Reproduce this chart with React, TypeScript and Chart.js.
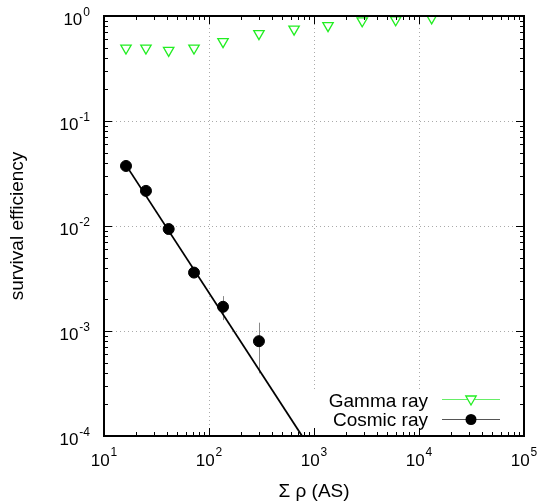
import React, { useEffect, useRef } from 'react';
import { Chart, registerables } from 'chart.js';
Chart.register(...registerables);

// ---- data ----
const gammaX = [16.2, 25.1, 41.3, 72, 136, 299, 646, 1360, 2880, 6000, 13200];
const gammaY = [0.495, 0.495, 0.47, 0.495, 0.57, 0.68, 0.75, 0.81, 0.9, 0.92, 0.96];
const cosmicX = [16.2, 25.1, 41.3, 72, 136, 299];
const cosmicY = [0.0373, 0.0216, 0.00936, 0.0036, 0.0017, 0.0008];
const cosmicErrLow: (number | null)[] = [null, null, null, null, 0.00127, 0.000395];
const cosmicErrHigh: (number | null)[] = [null, null, null, null, 0.00215, 0.0012];
const fitX = [16.2, 770];
const fitY = [0.038, 0.0001];
const xExponents = [1, 2, 3, 4, 5];
const yExponents = [0, -1, -2, -3, -4];
const xTitle = 'Σ ρ (AS)';
const yTitle = 'survival efficiency';
const legendLabels = ['Gamma ray', 'Cosmic ray'];

const FONT = '"Liberation Sans", Arial, Helvetica, sans-serif';
const GREEN = '#22ee22';
const GREEN_LINE = '#66ee66';

const xMin = Math.pow(10, Math.min(...xExponents));
const xMax = Math.pow(10, Math.max(...xExponents));
const yMin = Math.pow(10, Math.min(...yExponents));
const yMax = Math.pow(10, Math.max(...yExponents));

function tickValues(exps: number[]) {
  const lo = Math.min(...exps), hi = Math.max(...exps);
  const out: { v: number; major: boolean }[] = [];
  for (let e = lo; e <= hi; e++) {
    for (let m = 1; m <= 9; m++) {
      const v = m * Math.pow(10, e);
      if (v > Math.pow(10, hi) * 1.0001) break;
      out.push({ v, major: m === 1 });
    }
  }
  return out;
}

const gnuplotPlugin = {
  id: 'gnuplotLook',
  beforeDatasetsDraw(chart: any) {
    const { ctx, chartArea: a, scales } = chart;
    const xs = scales.x, ys = scales.y;
    ctx.save();
    // dotted grid at major ticks
    ctx.strokeStyle = '#aaaaaa';
    ctx.lineWidth = 1;
    ctx.setLineDash([1, 3]);
    xExponents.forEach((e) => {
      const v = Math.pow(10, e);
      if (v <= xMin || v >= xMax) return;
      const px = Math.round(xs.getPixelForValue(v)) + 0.5;
      ctx.beginPath(); ctx.moveTo(px, a.top); ctx.lineTo(px, a.bottom); ctx.stroke();
    });
    yExponents.forEach((e) => {
      const v = Math.pow(10, e);
      if (v <= yMin || v >= yMax) return;
      const py = Math.round(ys.getPixelForValue(v)) + 0.5;
      ctx.beginPath(); ctx.moveTo(a.left, py); ctx.lineTo(a.right, py); ctx.stroke();
    });
    ctx.setLineDash([]);
    // opaque legend box
    ctx.fillStyle = '#ffffff';
    ctx.fillRect(305, 390, a.right - 305, a.bottom - 390);
    // error bars
    ctx.strokeStyle = '#888888';
    ctx.lineWidth = 1;
    cosmicX.forEach((x, i) => {
      const lo = cosmicErrLow[i], hi = cosmicErrHigh[i];
      if (lo == null || hi == null) return;
      const px = Math.round(xs.getPixelForValue(x)) + 0.5;
      ctx.beginPath();
      ctx.moveTo(px, ys.getPixelForValue(hi));
      ctx.lineTo(px, ys.getPixelForValue(lo));
      ctx.stroke();
    });
    ctx.restore();
  },
  afterDraw(chart: any) {
    const { ctx, chartArea: a, scales } = chart;
    const xs = scales.x, ys = scales.y;
    ctx.save();
    // ticks (inward, mirrored)
    ctx.strokeStyle = '#000';
    ctx.lineWidth = 1;
    tickValues(xExponents).forEach(({ v, major }) => {
      const len = major ? 8 : 4;
      const px = Math.round(xs.getPixelForValue(v)) + 0.5;
      ctx.beginPath();
      ctx.moveTo(px, a.bottom); ctx.lineTo(px, a.bottom - len);
      ctx.moveTo(px, a.top); ctx.lineTo(px, a.top + len);
      ctx.stroke();
    });
    tickValues(yExponents).forEach(({ v, major }) => {
      const len = major ? 8 : 4;
      const py = Math.round(ys.getPixelForValue(v)) + 0.5;
      ctx.beginPath();
      ctx.moveTo(a.left, py); ctx.lineTo(a.left + len, py);
      ctx.moveTo(a.right, py); ctx.lineTo(a.right - len, py);
      ctx.stroke();
    });
    // border
    ctx.lineWidth = 2;
    ctx.strokeRect(a.left, a.top, a.right - a.left, a.bottom - a.top);

    // tick labels
    ctx.fillStyle = '#000';
    const baseFont = `17px ${FONT}`;
    const supFont = `12px ${FONT}`;
    xExponents.forEach((e) => {
      const px = xs.getPixelForValue(Math.pow(10, e));
      ctx.font = baseFont;
      const w1 = ctx.measureText('10').width;
      ctx.font = supFont;
      const w2 = ctx.measureText(String(e)).width;
      const start = px - (w1 + 1 + w2) / 2;
      ctx.textAlign = 'left';
      ctx.textBaseline = 'alphabetic';
      ctx.font = baseFont;
      ctx.fillText('10', start, a.bottom + 30);
      ctx.font = supFont;
      ctx.fillText(String(e), start + w1 + 1, a.bottom + 20);
    });
    yExponents.forEach((e) => {
      const py = ys.getPixelForValue(Math.pow(10, e));
      const sup = String(e);
      ctx.font = supFont;
      const w2 = ctx.measureText(sup).width;
      const right = a.left - 14;
      ctx.textAlign = 'left';
      ctx.textBaseline = 'alphabetic';
      ctx.font = supFont;
      ctx.fillText(sup, right - w2, py - 0.5);
      ctx.font = baseFont;
      ctx.textAlign = 'right';
      ctx.fillText('10', right - w2 - 1, py + 8.5);
    });

    // axis titles
    ctx.font = `19px ${FONT}`;
    ctx.textAlign = 'center';
    ctx.textBaseline = 'alphabetic';
    ctx.fillText(xTitle, (a.left + a.right) / 2, 497);
    ctx.save();
    ctx.translate(23, (a.top + a.bottom) / 2);
    ctx.rotate(-Math.PI / 2);
    ctx.fillText(yTitle, 0, 0);
    ctx.restore();

    // legend
    ctx.font = `19px ${FONT}`;
    ctx.textAlign = 'right';
    const textRight = 428;
    const sx0 = 442, sx1 = 500, smid = 471;
    // gamma
    ctx.fillText(legendLabels[0], textRight, 407);
    ctx.strokeStyle = GREEN_LINE;
    ctx.lineWidth = 1;
    ctx.beginPath(); ctx.moveTo(sx0, 399.5); ctx.lineTo(sx1, 399.5); ctx.stroke();
    ctx.strokeStyle = GREEN;
    ctx.lineWidth = 1.3;
    ctx.beginPath();
    ctx.moveTo(smid - 5.2, 396); ctx.lineTo(smid + 5.2, 396); ctx.lineTo(smid, 405); ctx.closePath();
    ctx.fillStyle = '#fff';
    ctx.fill();
    ctx.stroke();
    // cosmic
    ctx.fillStyle = '#000';
    ctx.fillText(legendLabels[1], textRight, 426);
    ctx.strokeStyle = '#555';
    ctx.lineWidth = 1;
    ctx.beginPath(); ctx.moveTo(sx0, 419.5); ctx.lineTo(sx1, 419.5); ctx.stroke();
    ctx.beginPath(); ctx.arc(smid, 419.5, 5.5, 0, Math.PI * 2); ctx.fill();

    ctx.restore();
  },
};

export default function App() {
  const ref = useRef<HTMLCanvasElement | null>(null);
  useEffect(() => {
    document.body.style.margin = '0';
    const canvas = ref.current!;
    const chart = new Chart(canvas, {
      type: 'scatter',
      data: {
        datasets: [
          {
            label: 'fit',
            type: 'line',
            data: fitX.map((x, i) => ({ x, y: fitY[i] })),
            borderColor: '#000',
            borderWidth: 1.8,
            pointRadius: 0,
            showLine: true,
            fill: false,
          } as any,
          {
            label: legendLabels[1],
            data: cosmicX.map((x, i) => ({ x, y: cosmicY[i] })),
            backgroundColor: '#000',
            borderColor: '#000',
            pointRadius: 5.5,
            pointStyle: 'circle',
          },
          {
            label: legendLabels[0],
            data: gammaX.map((x, i) => ({ x, y: gammaY[i] })),
            backgroundColor: 'rgba(255,255,255,0)',
            borderColor: GREEN,
            borderWidth: 1.3,
            pointRadius: 6,
            pointStyle: 'triangle',
            pointRotation: 180,
          },
        ],
      },
      options: {
        responsive: false,
        animation: false,
        devicePixelRatio: 1,
        layout: { padding: { top: 16, right: 14, left: 0, bottom: 0 } },
        plugins: { legend: { display: false }, tooltip: { enabled: false } },
        scales: {
          x: {
            type: 'logarithmic',
            min: xMin,
            max: xMax,
            ticks: { display: false },
            grid: { display: false },
            border: { display: false },
            afterFit: (s: any) => { s.height = 66; },
          },
          y: {
            type: 'logarithmic',
            min: yMin,
            max: yMax,
            ticks: { display: false },
            grid: { display: false },
            border: { display: false },
            afterFit: (s: any) => { s.width = 104; },
          },
        },
      } as any,
      plugins: [gnuplotPlugin],
    });
    return () => chart.destroy();
  }, []);
  return (
    <div style={{ width: 538, height: 502, background: '#fff' }}>
      <canvas ref={ref} width={538} height={502} style={{ display: 'block' }} />
    </div>
  );
}
